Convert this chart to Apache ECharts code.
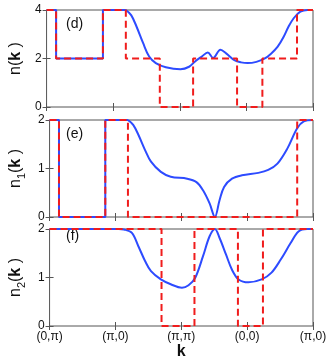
<!DOCTYPE html>
<html lang="en">
<head>
<meta charset="UTF-8">
<title>n(k) panels</title>
<style>
  html, body { margin: 0; padding: 0; background: #fff; }
  #chart { width: 332px; height: 364px; }
</style>
</head>
<body>
<div id="chart"></div>
<script src="https://cdn.jsdelivr.net/npm/echarts@6/dist/echarts.min.js"></script>
<script>
// k-path ticks
const kTicks = [0, 1, 2, 3, 4];
const kLabels = ['(0,\u03c0)', '(\u03c0,0)', '(\u03c0,\u03c0)', '(0,0)', '(\u03c0,0)'];

// panel (d): n(k)
const nStep = [[0, 4], [0.143, 4], [0.143, 2], [0.846, 2], [0.846, 4], [1.19, 4]];
const nCurve = [[1.19, 4], [1.27, 3.79], [1.35, 3.32], [1.45, 2.63], [1.54, 2.08], [1.64, 1.81],
  [1.79, 1.64], [2.01, 1.56], [2.14, 1.66], [2.23, 1.88], [2.33, 2.08], [2.42, 2.25], [2.50, 2.02],
  [2.61, 2.36], [2.70, 2.20], [2.82, 1.93], [2.92, 1.84], [3.02, 1.81], [3.15, 1.86], [3.27, 1.99],
  [3.37, 2.2], [3.47, 2.49], [3.56, 2.9], [3.63, 3.3], [3.71, 3.66], [3.81, 3.93], [3.92, 4], [4, 4]];
const nFree = [[0, 4], [0.143, 4], [0.143, 2], [0.846, 2], [0.846, 4], [1.19, 4], [1.19, 2], [1.70, 2],
  [1.70, 0], [2.20, 0], [2.20, 2], [2.86, 2], [2.86, 0], [3.24, 0], [3.24, 2], [3.76, 2], [3.76, 4], [4, 4]];

// panel (e): n1(k)
const n1Step = [[0, 2], [0.143, 2], [0.143, 0], [0.846, 0], [0.846, 2], [1.19, 2]];
const n1Curve = [[1.19, 2], [1.27, 1.9], [1.35, 1.69], [1.45, 1.38], [1.54, 1.14], [1.69, 0.93],
  [1.84, 0.83], [2.09, 0.79], [2.23, 0.72], [2.33, 0.55], [2.43, 0.28], [2.51, 0], [2.58, 0.34],
  [2.65, 0.62], [2.77, 0.79], [2.92, 0.86], [3.17, 0.91], [3.32, 0.97], [3.46, 1.10], [3.61, 1.41],
  [3.76, 1.83], [3.86, 1.97], [4, 2]];
const n1Free = [[0, 2], [0.143, 2], [0.143, 0], [0.846, 0], [0.846, 2], [1.19, 2], [1.19, 0],
  [3.76, 0], [3.76, 2], [4, 2]];

// panel (f): n2(k)
const n2Curve = [[0, 2], [1.05, 2], [1.13, 1.99], [1.25, 1.92], [1.35, 1.64], [1.45, 1.34], [1.54, 1.13],
  [1.69, 0.96], [1.84, 0.86], [2.01, 0.79], [2.11, 0.84], [2.21, 0.99], [2.33, 1.44], [2.43, 1.85],
  [2.51, 2.0], [2.58, 1.82], [2.68, 1.47], [2.77, 1.16], [2.87, 0.96], [3.02, 0.90], [3.22, 0.96],
  [3.37, 1.10], [3.51, 1.37], [3.66, 1.71], [3.78, 1.95], [3.91, 2], [4, 2]];
const n2Free = [[0, 2], [1.70, 2], [1.70, 0], [2.20, 0], [2.20, 2], [2.86, 2], [2.86, 0], [3.24, 0],
  [3.24, 2], [4, 2]];

const blue = '#2d4bff';
const red = '#f01c1c';
const font = "'Liberation Sans', Arial, sans-serif";

const panels = [
  { tag: '(d)', name: '{a|n(}{b|k}{a| )}', max: 4, step: 2, top: 10, tagY: 25, data: [nStep, nCurve, nFree] },
  { tag: '(e)', name: '{a|n}{s|1}{a|(}{b|k}{a| )}', max: 2, step: 1, top: 120, tagY: 135, data: [n1Step, n1Curve, n1Free] },
  { tag: '(f)', name: '{a|n}{s|2}{a|(}{b|k}{a| )}', max: 2, step: 1, top: 229, tagY: 237, data: [null, n2Curve, n2Free] }
];

const nameRich = {
  a: { fontSize: 16, fontFamily: font, color: '#111', lineHeight: 22 },
  b: { fontSize: 16, fontFamily: font, fontWeight: 'bold', color: '#111', lineHeight: 22 },
  s: { fontSize: 11, fontFamily: font, color: '#111', verticalAlign: 'bottom', lineHeight: 12 }
};

const grid = [], xAxis = [], yAxis = [], series = [], graphic = [];
const tick = { show: true, inside: true, length: 4, lineStyle: { color: '#555' } };

panels.forEach(function (p, i) {
  const last = i === panels.length - 1;
  grid.push({ left: 42, right: 19, top: p.top, height: 97, show: true, borderColor: '#555', borderWidth: 1 });
  xAxis.push({
    type: 'value', gridIndex: i, min: 0, max: 4, interval: 1, position: 'bottom',
    axisLine: { show: false }, axisTick: tick, splitLine: { show: false },
    axisLabel: {
      show: last, margin: 5, fontSize: 12, fontFamily: font, color: '#111',
      formatter: function (v) { return kLabels[kTicks.indexOf(v)]; }
    },
    name: last ? 'k' : '', nameLocation: 'middle', nameGap: 18,
    nameTextStyle: { fontSize: 16, fontWeight: 'bold', fontFamily: font, color: '#111' }
  });
  xAxis.push({
    type: 'value', gridIndex: i, min: 0, max: 4, interval: 1, position: 'top',
    axisLine: { show: false }, axisTick: tick, splitLine: { show: false }, axisLabel: { show: false }
  });
  yAxis.push({
    type: 'value', gridIndex: i, min: 0, max: p.max, interval: p.step, position: 'left',
    axisLine: { show: false }, axisTick: tick, splitLine: { show: false },
    axisLabel: { margin: 5, fontSize: 12, fontFamily: font, color: '#111' },
    name: p.name, nameLocation: 'middle', nameGap: 14,
    nameTextStyle: { rich: nameRich }
  });
  yAxis.push({
    type: 'value', gridIndex: i, min: 0, max: p.max, interval: p.step, position: 'right',
    axisLine: { show: false }, axisTick: tick, splitLine: { show: false }, axisLabel: { show: false }
  });

  const xi = i * 2, yi = i * 2;
  if (p.data[0]) {
    series.push({
      type: 'line', xAxisIndex: xi, yAxisIndex: yi, data: p.data[0], showSymbol: false, clip: false,
      lineStyle: { color: blue, width: 2 }, z: 2
    });
  }
  series.push({
    type: 'line', xAxisIndex: xi, yAxisIndex: yi, data: p.data[1], showSymbol: false, clip: false,
    smooth: 0.35, lineStyle: { color: blue, width: 2 }, z: 2
  });
  series.push({
    type: 'line', xAxisIndex: xi, yAxisIndex: yi, data: p.data[2], showSymbol: false, clip: false,
    lineStyle: { color: red, width: 2, type: [7, 4] }, z: 3
  });

  graphic.push({
    type: 'text', left: 66, top: p.tagY - 8,
    style: { text: p.tag, fontSize: 14, fontFamily: font, fill: '#111' }
  });
});

const chart = echarts.init(document.getElementById('chart'), null, { renderer: 'canvas' });
chart.setOption({
  animation: false,
  grid: grid,
  xAxis: xAxis,
  yAxis: yAxis,
  series: series,
  graphic: graphic
});
</script>
</body>
</html>
